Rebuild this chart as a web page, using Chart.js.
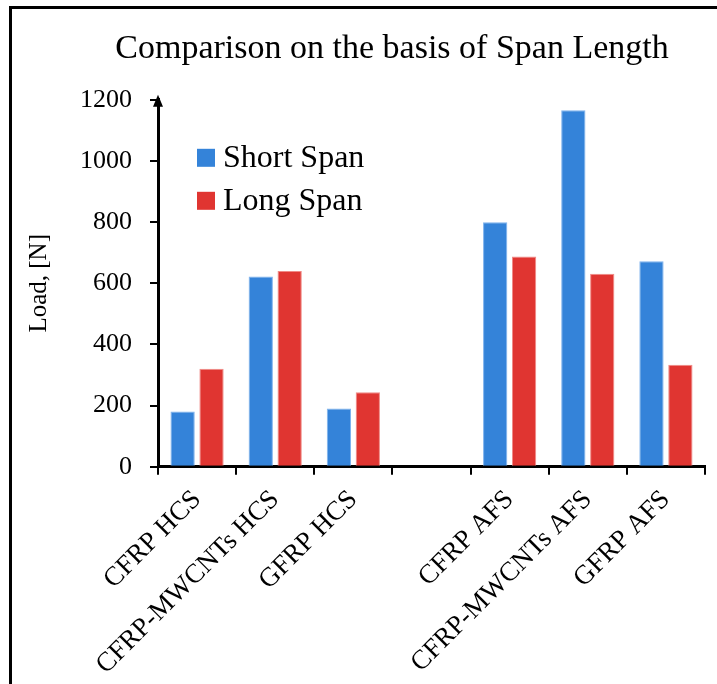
<!DOCTYPE html>
<html>
<head>
<meta charset="utf-8">
<script src="https://cdn.jsdelivr.net/npm/chart.js@4.4.0/dist/chart.umd.min.js"></script>
<style>
  html, body { margin: 0; padding: 0; background: #fff; width: 717px; height: 684px; overflow: hidden; }
  #frame { position: absolute; left: 9px; top: 6px; width: 800px; height: 700px;
           border-top: 3px solid #000; border-left: 3px solid #000; }
  #wrap { position: absolute; left: 0; top: 0; width: 760px; height: 681px; }
</style>
</head>
<body>
<div id="frame"><div id="wrap"><canvas id="chart"></canvas></div></div>
<script>
// ── data ──
const categories = ['CFRP HCS', 'CFRP-MWCNTs HCS', 'GFRP HCS', '', 'CFRP AFS', 'CFRP-MWCNTs AFS', 'GFRP AFS'];
const shortSpan = [181, 622, 191, null, 800, 1166, 672];
const longSpan = [321, 640, 244, null, 688, 631, 334];
const yTicks = [0, 200, 400, 600, 800, 1000, 1200];

const FONT = "'Liberation Serif', 'Times New Roman', serif";
const BLUE = '#3483d9';
const RED = '#e03531';

// arrow head on top of the y axis
const axisArrow = {
  id: 'axisArrow',
  afterDraw(chart) {
    const { ctx, chartArea } = chart;
    const x = chartArea.left, y = chartArea.top;
    ctx.save();
    ctx.fillStyle = '#000';
    ctx.beginPath();
    ctx.moveTo(x, y - 5);
    ctx.lineTo(x - 5, y + 7);
    ctx.lineTo(x + 5, y + 7);
    ctx.closePath();
    ctx.fill();
    ctx.restore();
  }
};

// legend drawn inside the plot area, top-left
const innerLegend = {
  id: 'innerLegend',
  afterDraw(chart) {
    const { ctx, chartArea } = chart;
    const x0 = chartArea.left + 39;
    let y = chartArea.top + 58;
    ctx.save();
    ctx.font = '32px ' + FONT;
    ctx.textBaseline = 'middle';
    chart.data.datasets.forEach(ds => {
      ctx.fillStyle = ds.backgroundColor;
      ctx.fillRect(x0, y - 9, 18, 18);
      ctx.fillStyle = '#000';
      ctx.fillText(ds.label, x0 + 26, y + 1);
      y += 43;
    });
    ctx.restore();
  }
};

new Chart(document.getElementById('chart'), {
  type: 'bar',
  data: {
    labels: categories,
    datasets: [
      { label: 'Short Span', data: shortSpan, backgroundColor: BLUE, borderColor: '#7db2ee', borderWidth: 1 },
      { label: 'Long Span', data: longSpan, backgroundColor: RED, borderColor: '#f08a86', borderWidth: 1 }
    ]
  },
  options: {
    responsive: true,
    maintainAspectRatio: false,
    animation: false,
    datasets: { bar: { barPercentage: 0.84, categoryPercentage: 0.74 } },
    layout: { padding: 0 },
    plugins: {
      legend: { display: false },
      tooltip: { enabled: false },
      title: {
        display: true,
        text: 'Comparison on the basis of Span Length',
        color: '#000',
        font: { family: FONT, size: 34, weight: 'normal' },
        padding: { top: 20, bottom: 30 }
      }
    },
    scales: {
      x: {
        ticks: {
          color: '#000', font: { family: FONT, size: 27 },
          minRotation: 45, maxRotation: 45, autoSkip: false, padding: 9
        },
        grid: { offset: true, drawOnChartArea: false, tickLength: 8, color: '#000', lineWidth: 2 },
        border: { color: '#000', width: 3 }
      },
      y: {
        min: 0, max: 1200,
        afterBuildTicks: axis => { axis.ticks = yTicks.map(v => ({ value: v })); },
        ticks: { color: '#000', font: { family: FONT, size: 26 }, padding: 18, callback: v => String(v) },
        grid: { drawOnChartArea: false, tickLength: 8, color: '#000', lineWidth: 2 },
        border: { color: '#000', width: 3 },
        title: {
          display: true, text: 'Load, [N]', color: '#000',
          font: { family: FONT, size: 25 }, padding: { top: 12, bottom: 8 }
        }
      },
      // empty spacer on the right, keeps the plot where the original has it
      spacer: {
        type: 'linear', position: 'right', display: true,
        ticks: { display: false }, grid: { display: false }, border: { display: false },
        afterFit: s => { s.width = 67; }
      }
    }
  },
  plugins: [axisArrow, innerLegend]
});
</script>
</body>
</html>
